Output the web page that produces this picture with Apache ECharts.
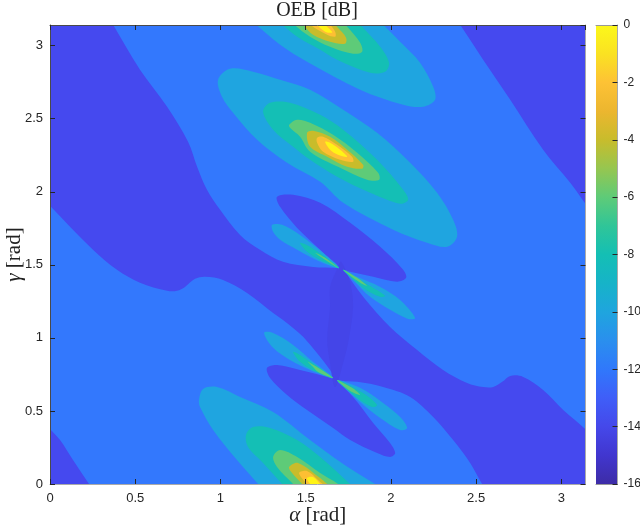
<!DOCTYPE html>
<html><head><meta charset="utf-8">
<style>html,body{margin:0;padding:0;background:#fff}#c{width:640px;height:530px}</style>
<script src="https://cdn.jsdelivr.net/npm/echarts@6/dist/echarts.min.js"></script>
</head><body><div id="c"></div>
<script>
// Filled-contour regions: [alpha, gamma] in rad.
const darkBand=[[-.06,3.212],[.335,3.212],[.37,3.144],[.528,2.836],[.687,2.582],[.81,2.342],[.863,2.171],[.921,2.014],[.998,1.877],[1.115,1.705],[1.232,1.603],[1.367,1.521],[1.543,1.486],[1.69,1.479],[1.72,1.466],[1.837,1.281],[1.995,1.075],[2.154,.918],[2.306,.781],[2.447,.692],[2.541,.664],[2.6,.664],[2.653,.699],[2.7,.74],[2.776,.733],[2.893,.644],[3.011,.507],[3.146,.37],[3.228,.267],[3.228,-.075],[2.582,-.075],[2.535,0],[2.465,.144],[2.365,.301],[2.248,.459],[2.113,.596],[1.954,.664],[1.802,.699],[1.69,.705],[1.673,.719],[1.643,.781],[1.485,1.007],[1.367,1.123],[1.309,1.171],[1.156,1.308],[1.015,1.397],[.91,1.418],[.851,1.404],[.792,1.349],[.745,1.322],[.687,1.322],[.528,1.377],[.393,1.466],[.252,1.603],[0,1.904],[-.07,2],[-.07,3.1]];
const darkCornerLow=[[-.07,.473],[0,.377],[.059,.301],[.135,.164],[.229,0],[.276,-.075],[-.07,-.075]];
const darkCornerHigh=[[2.365,3.212],[2.406,3.144],[2.541,2.904],[2.7,2.63],[2.893,2.288],[3.052,2.062],[3.146,1.911],[3.228,1.795],[3.228,3.212]];
const darkLobeUpper=[[1.332,1.966],[1.426,1.979],[1.585,1.925],[1.761,1.788],[1.937,1.623],[2.072,1.466],[2.089,1.411],[2.036,1.384],[1.896,1.418],[1.761,1.452],[1.714,1.473],[1.69,1.479],[1.585,1.603],[1.45,1.753],[1.35,1.897]];
const darkLobeLower=[[1.273,.795],[1.332,.815],[1.467,.781],[1.626,.733],[1.673,.712],[1.778,.596],[1.896,.418],[1.995,.281],[2.025,.212],[1.995,.185],[1.919,.212],[1.761,.301],[1.661,.384],[1.508,.507],[1.391,.61],[1.291,.726]];
const deepLens=[[1.708,1.521],[1.761,1.377],[1.778,1.212],[1.749,.966],[1.72,.829],[1.673,.664],[1.643,.829],[1.626,.986],[1.643,1.212],[1.643,1.349],[1.69,1.486]];

const xUL1=[[1.303,1.774],[1.362,1.774],[1.467,1.705],[1.602,1.582],[1.696,1.479],[1.585,1.521],[1.45,1.603],[1.35,1.671],[1.309,1.726]];
const xUL2=[[1.467,1.651],[1.538,1.616],[1.696,1.479],[1.585,1.534],[1.508,1.589]];
const xUL3=[[1.555,1.582],[1.614,1.548],[1.69,1.479],[1.631,1.521]];
const xUR1=[[1.72,1.466],[1.802,1.418],[1.937,1.349],[2.054,1.26],[2.142,1.137],[2.101,1.13],[1.995,1.192],[1.878,1.281],[1.778,1.397]];
const xUR2=[[1.72,1.466],[1.866,1.363],[1.966,1.288],[1.937,1.281],[1.837,1.342]];
const xUR3=[[1.72,1.466],[1.802,1.411],[1.86,1.356],[1.819,1.377]];
const xLL1=[[1.256,1.034],[1.309,1.034],[1.426,.952],[1.543,.836],[1.661,.726],[1.526,.781],[1.408,.849],[1.309,.932]];
const xLL2=[[1.426,.904],[1.485,.87],[1.661,.726],[1.538,.781],[1.467,.836]];
const xLL3=[[1.514,.836],[1.661,.726],[1.573,.767],[1.543,.801]];
const xLR1=[[1.684,.712],[1.819,.658],[1.954,.555],[2.054,.459],[2.095,.384],[2.054,.37],[1.937,.452],[1.819,.562],[1.743,.644]];
const xLR2=[[1.684,.712],[1.837,.623],[1.919,.541],[1.89,.527],[1.802,.589]];
const xLR3=[[1.684,.712],[1.772,.658],[1.819,.61],[1.761,.637]];

const midA=[[.986,2.767],[1.056,2.842],[1.191,2.822],[1.35,2.767],[1.526,2.699],[1.72,2.562],[1.919,2.404],[2.113,2.199],[2.271,1.993],[2.365,1.808],[2.388,1.692],[2.33,1.623],[2.212,1.651],[2.013,1.74],[1.72,1.925],[1.585,2.068],[1.391,2.199],[1.215,2.356],[1.074,2.541],[1.009,2.651]];
const midB=[[1.25,2.548],[1.291,2.61],[1.408,2.61],[1.585,2.527],[1.72,2.425],[1.919,2.219],[2.072,2.014],[2.101,1.945],[2.054,1.918],[1.878,1.993],[1.684,2.103],[1.526,2.219],[1.426,2.308],[1.309,2.425]];
const midC=[[1.403,2.459],[1.45,2.493],[1.526,2.473],[1.661,2.39],[1.802,2.267],[1.925,2.13],[1.931,2.082],[1.86,2.082],[1.702,2.164],[1.526,2.274],[1.467,2.377],[1.408,2.438]];
const midD=[[1.508,2.404],[1.543,2.418],[1.643,2.377],[1.743,2.288],[1.837,2.185],[1.831,2.158],[1.743,2.171],[1.626,2.24],[1.526,2.308]];
const midE=[[1.567,2.37],[1.602,2.377],[1.684,2.322],[1.772,2.24],[1.778,2.205],[1.702,2.219],[1.602,2.274],[1.567,2.336]];
const midF=[[1.614,2.342],[1.643,2.336],[1.702,2.288],[1.743,2.24],[1.69,2.253],[1.643,2.288]];

const topA=[[1.144,3.212],[1.209,3.144],[1.35,3.007],[1.508,2.89],[1.819,2.699],[2.072,2.596],[2.189,2.582],[2.259,2.63],[2.248,2.719],[2.171,2.884],[2.054,3.027],[1.954,3.144],[1.89,3.212]];
const topB=[[1.303,3.212],[1.362,3.144],[1.45,3.062],[1.585,2.973],[1.684,2.904],[1.878,2.815],[1.966,2.822],[1.989,2.884],[1.937,2.993],[1.819,3.144],[1.761,3.212]];
const topC=[[1.379,3.212],[1.432,3.144],[1.526,3.062],[1.643,2.993],[1.778,2.945],[1.831,2.959],[1.819,3.021],[1.749,3.123],[1.731,3.144],[1.673,3.212]];
const topD=[[1.438,3.212],[1.485,3.144],[1.543,3.075],[1.643,3.027],[1.731,3.014],[1.737,3.055],[1.684,3.13],[1.673,3.144],[1.614,3.212]];
const topE=[[1.479,3.212],[1.526,3.144],[1.626,3.075],[1.673,3.062],[1.673,3.096],[1.643,3.144],[1.596,3.212]];
const topF=[[1.526,3.212],[1.567,3.144],[1.614,3.096],[1.655,3.089],[1.643,3.11],[1.614,3.144],[1.573,3.212]];

const lowA=[[.874,.575],[.898,.651],[.98,.664],[1.115,.596],[1.309,.493],[1.526,.301],[1.661,.185],[1.802,.075],[1.907,0],[2.007,-.075],[1.279,-.075],[1.221,0],[1.097,.164],[.957,.37],[.88,.527]];
const lowB=[[1.15,.336],[1.191,.39],[1.291,.384],[1.45,.301],[1.585,.185],[1.761,0],[1.831,-.075],[1.42,-.075],[1.362,0],[1.25,.144],[1.162,.253]];
const lowC=[[1.309,.185],[1.35,.233],[1.45,.185],[1.585,.075],[1.69,0],[1.761,-.075],[1.485,-.075],[1.426,0],[1.332,.116]];
const lowD=[[1.403,.116],[1.455,.144],[1.585,.041],[1.626,0],[1.702,-.075],[1.538,-.075],[1.479,0],[1.42,.075]];
const lowE=[[1.461,.075],[1.508,.089],[1.585,.014],[1.673,-.075],[1.573,-.075],[1.508,0]];
const lowF=[[1.508,.041],[1.543,.048],[1.585,0],[1.643,-.075],[1.585,-.075],[1.526,0]];

const plotBounds=[[-.1,-.1],[3.3,-.1],[3.3,3.3],[-.1,3.3]];
const xTicks=[0,0.5,1,1.5,2,2.5,3];
const barValues=[-16,-15,-14,-13,-12,-11,-10,-9,-8,-7,-6,-5,-4,-3,-2,-1,0];
const barColors=['#3d2ca6','#4136cf','#4548ea','#3f5ef8','#3078fb','#2a8fee','#1fa5de','#16b3c8','#14bfb4','#30c598','#5ecb78','#96c650','#c8bc2c','#ecb62f','#fdc235','#fae222','#fcf81a'];

const BG='#3378fd',DARK='#4549ef',DEEP='#4445e8',LB='#1fa5e0',TEAL='#14bfb5',GREEN='#5ecb78',GOLD='#c8bc2b',ORANGE='#fdbf33',YEL='#fff416';
const contours=[
 [plotBounds,BG],[darkBand,DARK],[darkCornerLow,DARK],[darkCornerHigh,DARK],[darkLobeUpper,DARK],[darkLobeLower,DARK],[deepLens,DEEP],
 [xUL1,LB],[xUL2,TEAL],[xUL3,GREEN],[xUR1,LB],[xUR2,TEAL],[xUR3,GREEN],[xLL1,LB],[xLL2,TEAL],[xLL3,GREEN],[xLR1,LB],[xLR2,TEAL],[xLR3,GREEN],
 [midA,LB],[midB,TEAL],[midC,GREEN],[midD,GOLD],[midE,ORANGE],[midF,YEL],
 [topA,LB],[topB,TEAL],[topC,GREEN],[topD,GOLD],[topE,ORANGE],[topF,YEL],
 [lowA,LB],[lowB,TEAL],[lowC,GREEN],[lowD,GOLD],[lowE,ORANGE],[lowF,YEL]
];

const FS='"Liberation Sans",Arial,sans-serif', FT='"Liberation Serif",serif', INK='#262626';
const nameStyle={color:'#222',fontFamily:FT,fontSize:21,rich:{g:{color:'#222',fontFamily:FT,fontSize:21,fontStyle:'italic'},t:{color:'#222',fontFamily:FT,fontSize:21}}};
const mainAxis=(extra)=>Object.assign({type:'value',z:5,min:0,max:Math.PI,interval:.5,gridIndex:0,splitLine:{show:false},
  axisTick:{inside:true,length:5,lineStyle:{color:INK,width:1}},axisLine:{show:true,onZero:false,lineStyle:{color:'#4a4a4a',width:1}}},extra);
const fmt=v=>xTicks.includes(v)?String(v):'';

const chart=echarts.init(document.getElementById('c'),null,{renderer:'canvas'});
chart.setOption({
 animation:false,backgroundColor:'#fff',
 title:{text:'OEB [dB]',left:312,top:-4,textAlign:'center',textStyle:{fontFamily:FT,fontWeight:'normal',fontSize:20,color:'#222'}},
 grid:[{left:50,top:25,width:535.5,height:459,outerBoundsMode:'none'},{left:596,top:25,width:21.5,height:459,outerBoundsMode:'none'}],
 xAxis:[
  mainAxis({position:'bottom',name:'{g|α} {t|[rad]}',nameLocation:'middle',nameGap:21,nameMoveOverlap:false,nameTextStyle:nameStyle,
    axisLabel:{margin:8,color:INK,fontFamily:FS,fontSize:13,formatter:fmt,showMaxLabel:false},axisLine:{show:true,onZero:false,lineStyle:{color:'#aaa',width:1}}}),
  mainAxis({position:'top',axisLabel:{show:false}}),
  {type:'value',z:5,gridIndex:1,min:0,max:1,position:'top',show:true,axisLabel:{show:false},axisTick:{show:false},splitLine:{show:false},axisLine:{onZero:false,lineStyle:{color:'#999'}}},
  {type:'value',z:5,gridIndex:1,min:0,max:1,position:'bottom',show:true,axisLabel:{show:false},axisTick:{show:false},splitLine:{show:false},axisLine:{onZero:false,lineStyle:{color:'#999'}}}
 ],
 yAxis:[
  mainAxis({position:'left',name:'{g|γ} {t|[rad]}',nameLocation:'middle',nameGap:25,nameMoveOverlap:false,nameTextStyle:nameStyle,
    axisLabel:{margin:7,color:INK,fontFamily:FS,fontSize:13,formatter:fmt,showMaxLabel:false}}),
  mainAxis({position:'right',axisLabel:{show:false},axisLine:{show:true,onZero:false,lineStyle:{color:'#aaa',width:1}}}),
  {type:'value',z:5,gridIndex:1,min:-16,max:0,interval:2,position:'right',axisTick:{inside:true,length:5,lineStyle:{color:INK}},
   axisLine:{show:true,onZero:false,lineStyle:{color:'#aaa'}},splitLine:{show:false},
   axisLabel:{margin:6,color:INK,fontFamily:FS,fontSize:12,showMaxLabel:true,showMinLabel:true}}
 ],
 series:[
  {type:'custom',coordinateSystem:'cartesian2d',xAxisIndex:0,yAxisIndex:0,clip:true,silent:true,
   data:contours.map((c,i)=>[i]),
   renderItem:(p,api)=>{const c=contours[p.dataIndex];
     return {type:'polygon',shape:{points:c[0].map(q=>api.coord(q)),smooth:c[0]===plotBounds?0:0.33},style:{fill:c[1]}};}},
  {type:'custom',coordinateSystem:'cartesian2d',xAxisIndex:2,yAxisIndex:2,silent:true,z:1,
   data:[[0,barValues[0],1,barValues[barValues.length-1]]],
   renderItem:(p,api)=>{const a=api.coord([0,-16]),b=api.coord([1,0]);
     return {type:'rect',shape:{x:a[0],y:b[1],width:b[0]-a[0],height:a[1]-b[1]},
       style:{fill:new echarts.graphic.LinearGradient(0,1,0,0,barValues.map((v,i)=>({offset:(v+16)/16,color:barColors[i]})))}};}}
 ]
});
</script></body></html>
